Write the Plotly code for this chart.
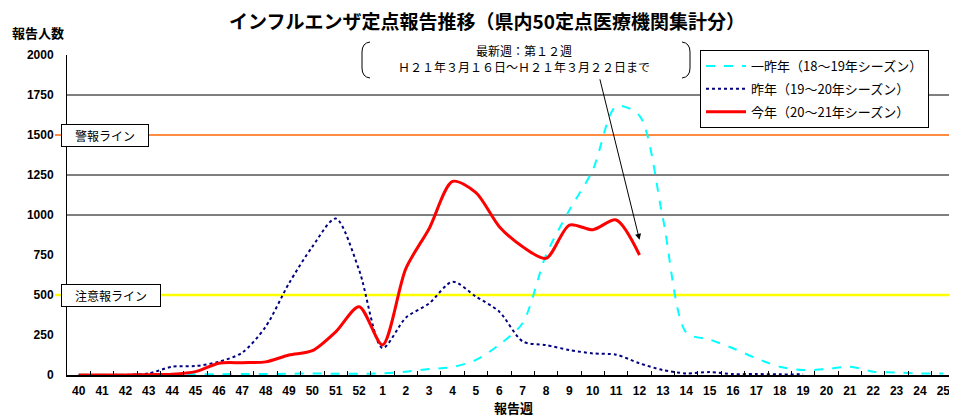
import plotly.graph_objects as go

# ---- data ----
weeks = [str(w) for w in range(40, 53)] + [str(w) for w in range(1, 26)]

# 一昨年（18～19年シーズン）
season_18_19 = [2, 2, 2, 3, 3, 5, 5, 6, 6, 8, 10, 8, 8,
                10, 21, 37, 50, 94, 190, 325, 750, 1031, 1281, 1680, 1620,
                980, 265, 222, 167, 104, 52, 31, 37, 52, 21, 15, 10, 10]
# 昨年（19～20年シーズン）
season_19_20 = [0, 0, 0, 10, 52, 56, 83, 140, 302, 573, 802, 978, 656,
                168, 358, 448, 583, 490, 396, 210, 187, 156, 135, 127, 73,
                31, 10, 18, 6, 6, 4, 4]
# 今年（20～21年シーズン）
season_20_21 = [0, 0, 0, 2, 5, 21, 74, 77, 82, 125, 152, 270, 427,
                188, 665, 916, 1210, 1140, 927, 802, 729, 937, 908, 969, 750]

names = ["一昨年（18～19年シーズン）", "昨年（19～20年シーズン）", "今年（20～21年シーズン）"]
alert_level = 1500
warning_level = 500
grid_levels = [1000, 1250, 1750]
y_ticks = list(range(0, 2001, 250))
latest_week = "12"
arrow_value = 845

FONT = "Noto Sans CJK JP"

# page offset (body margin) and plot area in window pixels
OFF = 8
WIN_W, WIN_H = 957, 417
W, H = WIN_W - OFF, WIN_H - OFF
L, R, T, B = 67, 955, 55, 375


def px(x):
    return (x - L) / (R - L)


def py(y):
    return (B - y) / (B - T)


fig = go.Figure()
fig.add_trace(go.Scatter(x=weeks[:len(season_18_19)], y=season_18_19, name=names[0], legendgroup="a",
                         mode="lines", line=dict(color="#00FFFF", width=2, dash="dash", shape="spline", smoothing=0.8)))
fig.add_trace(go.Scatter(x=weeks[:len(season_19_20)], y=season_19_20, name=names[1], legendgroup="b",
                         mode="lines", line=dict(color="#000080", width=2, dash="dot", shape="spline", smoothing=0.8)))
fig.add_trace(go.Scatter(x=weeks[:len(season_20_21)], y=season_20_21, name=names[2], legendgroup="c",
                         mode="lines", line=dict(color="#FF0000", width=3, shape="spline", smoothing=0.8)))

shapes = []
for g in grid_levels:
    shapes.append(dict(type="line", xref="paper", yref="y", x0=0, x1=1, y0=g, y1=g,
                       line=dict(color="black", width=1), layer="below"))
shapes.append(dict(type="line", xref="paper", yref="y", x0=px(55), x1=1, y0=alert_level, y1=alert_level,
                   line=dict(color="#FF6600", width=1.5), layer="below"))
shapes.append(dict(type="line", xref="paper", yref="y", x0=px(55), x1=1, y0=warning_level, y1=warning_level,
                   line=dict(color="#FFFF00", width=2.5), layer="below"))


def bracket(xe, xc):
    return ("M {a},{b} Q {c},{d} {c},{e} L {c},{f} Q {c},{g} {a},{h}".format(
        a=px(xe), b=py(42), c=px(xc), d=py(43), e=py(52), f=py(68), g=py(77), h=py(78)))


shapes.append(dict(type="path", xref="paper", yref="paper", path=bracket(370, 362),
                   line=dict(color="black", width=1)))
shapes.append(dict(type="path", xref="paper", yref="paper", path=bracket(682, 690),
                   line=dict(color="black", width=1)))

annotations = [
    dict(text="報告人数", xref="paper", yref="paper", x=px(10), y=py(33), xanchor="left", yanchor="middle",
         showarrow=False, font=dict(family=FONT, size=13, color="black", weight="bold")),
    dict(text="報告週", xref="paper", yref="paper", x=px(513), y=py(407), xanchor="center", yanchor="middle",
         showarrow=False, font=dict(family=FONT, size=13, color="black", weight="bold")),
    dict(text="警報ライン", xref="paper", yref="y", x=px(61), y=alert_level, xanchor="left", yanchor="middle",
         showarrow=False, bgcolor="white", bordercolor="black", borderwidth=1, width=84, height=19,
         font=dict(family=FONT, size=12, color="black")),
    dict(text="注意報ライン", xref="paper", yref="y", x=px(61), y=warning_level, xanchor="left", yanchor="middle",
         showarrow=False, bgcolor="white", bordercolor="black", borderwidth=1, width=96, height=19,
         font=dict(family=FONT, size=12, color="black")),
    dict(text="最新週：第１２週<br>Ｈ２１年３月１６日～Ｈ２１年３月２２日まで", xref="paper", yref="paper",
         x=px(524), y=py(59), xanchor="center", yanchor="middle", showarrow=False,
         font=dict(family=FONT, size=12, color="black")),
    dict(text="", x=weeks.index(latest_week), y=arrow_value, xref="x", yref="y", showarrow=True,
         arrowhead=2, arrowsize=1.2, arrowwidth=1, arrowcolor="black", ax=-40, ay=-162),
]

fig.update_layout(
    width=W, height=H,
    margin=dict(l=L - OFF, r=W - (R - OFF), t=T - OFF, b=H - (B - OFF)),
    paper_bgcolor="white", plot_bgcolor="white",
    title=dict(text="インフルエンザ定点報告推移（県内50定点医療機関集計分）", xref="container", yref="container",
               x=(487 - OFF) / W, y=1 - (22 - OFF) / H, xanchor="center", yanchor="middle",
               font=dict(family=FONT, size=19, color="black", weight="bold")),
    xaxis=dict(type="category", categoryorder="array", categoryarray=weeks, range=[-0.5, len(weeks) - 0.5],
               showgrid=False, zeroline=False, showline=True, linecolor="black", linewidth=2,
               ticks="inside", ticklen=4, tickcolor="black", tickson="boundaries",
               tickfont=dict(family="Liberation Sans", size=12, color="black", weight="bold"),
               ticklabelstandoff=4),
    yaxis=dict(range=[0, 2000], tickvals=y_ticks, showgrid=False, zeroline=False,
               showline=True, linecolor="black", linewidth=1, ticks="",
               tickfont=dict(family="Liberation Sans", size=12, color="black", weight="bold"),
               ticklabelstandoff=10),
    legend=dict(x=px(700), y=py(50), xanchor="left", yanchor="top", bgcolor="white",
                bordercolor="black", borderwidth=1, font=dict(family=FONT, size=13, color="black"),
                itemwidth=40, traceorder="grouped", tracegroupgap=3),
    shapes=shapes, annotations=annotations, showlegend=True,
)

fig.write_html("out.html")
